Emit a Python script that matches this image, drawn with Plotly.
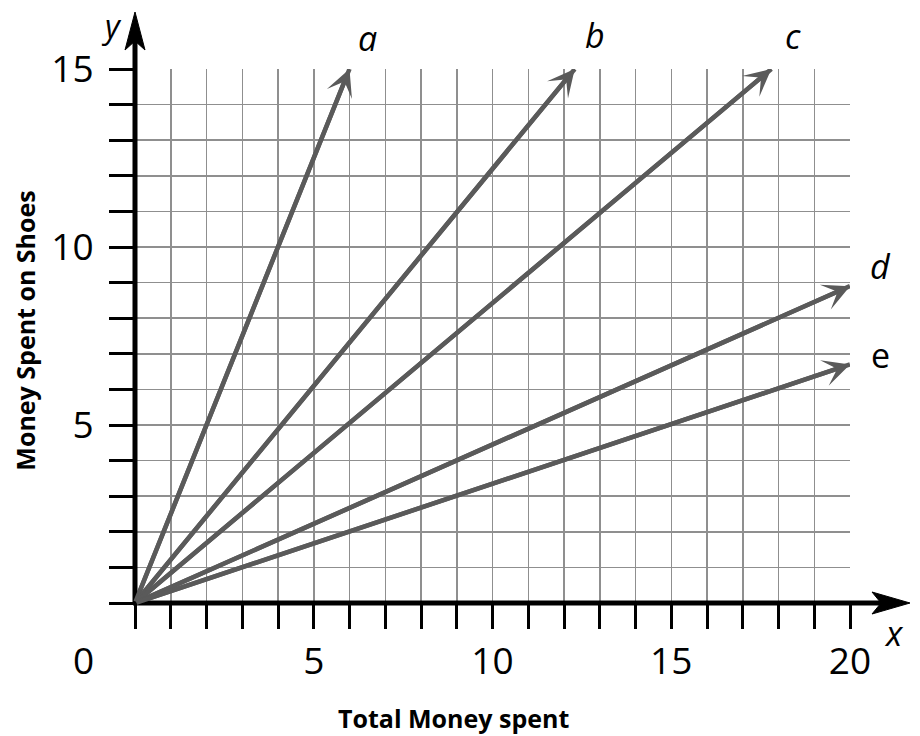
import plotly.graph_objects as go

# ---- data ----
line_names = ["a", "b", "c", "d", "e"]
end_x = [6.0, 12.3, 17.8, 20.0, 20.0]
end_y = [15.0, 15.0, 15.0, 8.9, 6.7]

x_tick_values = [5, 10, 15, 20]
x_tick_labels = ["5", "10", "15", "20"]
y_tick_values = [5, 10, 15]
y_tick_labels = ["5", "10", "15"]
origin_label = "0"

x_title = "Total Money spent"
y_title = "Money Spent on Shoes"

LINE_COLOR = "#5a5a5a"
GRID_COLOR = "#8f8f8f"
TICK_FONT = dict(family="Open Sans", size=37, color="black")
TITLE_FONT = dict(family="Open Sans", size=25, color="black")
LETTER_FONT = dict(family="Open Sans", size=34, color="black")

fig = go.Figure()

# label offsets (pixels) relative to each line end
label_shift = {
    "a": (18, 31), "b": (20, 34), "c": (22, 33), "d": (30, 20), "e": (30, 9)
}

for name, xe, ye in zip(line_names, end_x, end_y):
    fig.add_trace(go.Scatter(
        x=[0, xe], y=[0, ye], mode="lines",
        line=dict(color=LINE_COLOR, width=4.5),
        cliponaxis=False, showlegend=False, hoverinfo="skip", name=name,
    ))
    fig.add_annotation(
        x=xe, y=ye, xref="x", yref="y", ax=0, ay=0, axref="x", ayref="y",
        text="", showarrow=True, arrowhead=3, arrowsize=1.0, arrowwidth=4.5,
        arrowcolor=LINE_COLOR,
    )
    sx, sy = label_shift[name]
    txt = f"<i>{name}</i>" if name != "e" else name
    fig.add_annotation(
        x=xe, y=ye, xref="x", yref="y", text=txt, showarrow=False,
        xshift=sx, yshift=sy, font=LETTER_FONT, xanchor="center", yanchor="middle",
    )

# origin "0" label
fig.add_annotation(x=0, y=0, xref="x", yref="y", text=origin_label,
                   showarrow=False, xshift=-52, yshift=-56, font=TICK_FONT,
                   xanchor="center", yanchor="middle")

# axis letters
fig.add_annotation(x=1, y=0, xref="paper", yref="y", text="<i>x</i>",
                   showarrow=False, xshift=44, yshift=-30, font=LETTER_FONT,
                   xanchor="center", yanchor="middle")
fig.add_annotation(x=0, y=1, xref="x", yref="paper", text="<i>y</i>",
                   showarrow=False, xshift=-24, yshift=44,
                   font=dict(family="Open Sans", size=32, color="black"),
                   xanchor="center", yanchor="middle")

# axis titles
fig.add_annotation(x=0.445, y=-0.215, xref="paper", yref="paper", text=f"<b>{x_title}</b>",
                   showarrow=False, font=TITLE_FONT, xanchor="center", yanchor="middle")
fig.add_annotation(x=0, y=0.51, xref="paper", yref="paper", text=f"<b>{y_title}</b>",
                   showarrow=False, font=TITLE_FONT, textangle=-90, xshift=-110,
                   xanchor="center", yanchor="middle")

# axis lines with arrowheads
fig.add_shape(type="line", xref="paper", yref="paper", x0=0, x1=0,
              ysizemode="pixel", yanchor=0, y0=-2, y1=565,
              line=dict(color="black", width=5), layer="above")
fig.add_shape(type="path", xref="paper", yref="paper",
              xsizemode="pixel", xanchor=0, ysizemode="pixel", yanchor=0,
              path="M0,591 L10,553 L0,562 L-10,553 Z",
              fillcolor="black", line=dict(color="black", width=1), layer="above")
fig.add_shape(type="line", xref="paper", yref="paper", y0=0, y1=0,
              xsizemode="pixel", xanchor=0, x0=-2, x1=750,
              line=dict(color="black", width=5), layer="above")
fig.add_shape(type="path", xref="paper", yref="paper",
              xsizemode="pixel", xanchor=0, ysizemode="pixel", yanchor=0,
              path="M775,0 L737,11 L746,0 L737,-11 Z",
              fillcolor="black", line=dict(color="black", width=1), layer="above")

axis_common = dict(
    showline=False, zeroline=False, showgrid=True,
    gridcolor=GRID_COLOR, gridwidth=1.5,
    ticks="outside", ticklen=25, tickwidth=3, tickcolor="black",
    tickfont=TICK_FONT, tickmode="array", fixedrange=True,
    minor=dict(dtick=1, tick0=0, ticks="outside", ticklen=25, tickwidth=3,
               tickcolor="black", showgrid=True, gridcolor=GRID_COLOR, gridwidth=1.5),
)

fig.update_xaxes(range=[0, 20], tickvals=x_tick_values, ticktext=x_tick_labels,
                 ticklabelstandoff=1, **axis_common)
fig.update_yaxes(range=[0, 15], tickvals=y_tick_values, ticktext=y_tick_labels,
                 ticklabelstandoff=8, **axis_common)

fig.update_layout(
    width=920, height=736, autosize=False,
    margin=dict(l=135, r=70, t=69, b=133),
    plot_bgcolor="white", paper_bgcolor="white",
    showlegend=False,
)

# remove the default 8px page margin so the figure fills the window exactly
fig.write_html("out.html",
               config={"displayModeBar": False, "staticPlot": True},
               post_script="document.body.style.margin='0';document.body.style.overflow='hidden';")
